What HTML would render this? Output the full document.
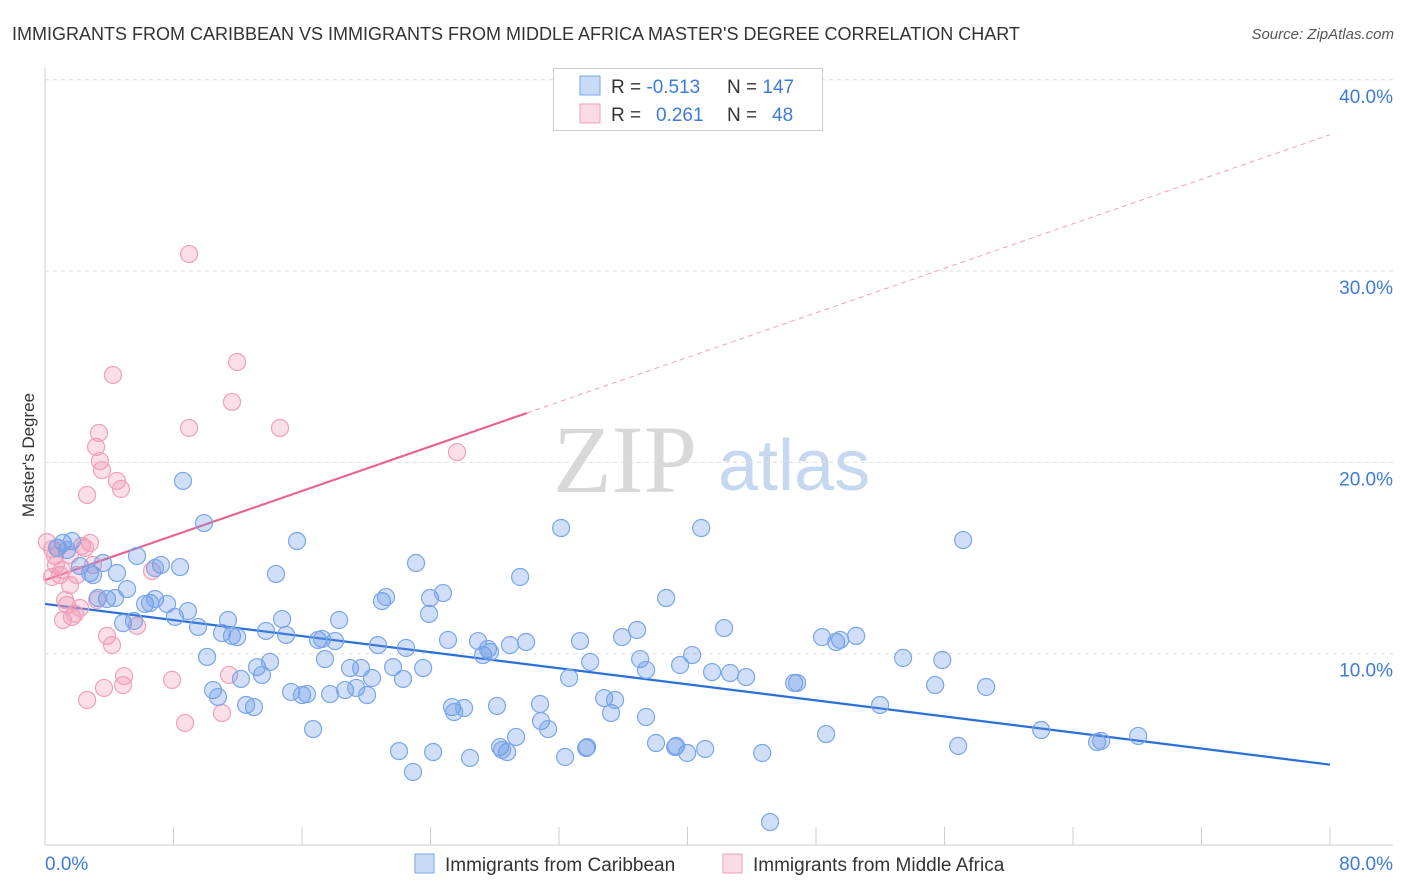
<!DOCTYPE html>
<html><head><meta charset="utf-8"><style>
body{margin:0;background:#fff;font-family:"Liberation Sans",sans-serif;}
svg{display:block}
</style></head><body>
<svg id="chart" width="1406" height="892">
<text x="12" y="40" font-size="18" fill="#333">IMMIGRANTS FROM CARIBBEAN VS IMMIGRANTS FROM MIDDLE AFRICA MASTER'S DEGREE CORRELATION CHART</text>
<text x="1394" y="39" font-size="15" fill="#555" font-style="italic" text-anchor="end">Source: ZipAtlas.com</text>
<g>
<text x="553" y="492" font-size="96" font-family="Liberation Serif,serif" fill="#d8d8d8">ZIP</text>
<text x="718" y="490" font-size="72" fill="#c5d8f0">atlas</text>
</g>
<g id="grid"></g><g id="axes"></g><g id="trends"></g><g id="pts"></g>
<text transform="translate(34,455) rotate(-90)" font-size="17" fill="#333" text-anchor="middle">Master's Degree</text>
<g>
<rect x="553.5" y="68.5" width="269" height="62" fill="#fff" stroke="#ccc"/>
<rect x="580" y="76" width="20" height="19" fill="rgba(100,150,230,0.35)" stroke="#7aa6e8"/>
<rect x="580" y="104" width="20" height="19" fill="rgba(240,150,180,0.35)" stroke="#f0a0bb"/>
<text x="611" y="93" font-size="19" fill="#333">R = <tspan fill="#3d7bd9">-0.513</tspan><tspan x="727">N = </tspan><tspan fill="#3d7bd9">147</tspan></text>
<text x="611" y="121" font-size="19" fill="#333">R = <tspan x="656" fill="#3d7bd9">0.261</tspan><tspan x="727">N = </tspan><tspan x="772" fill="#3d7bd9">48</tspan></text>
</g>
<g>
<rect x="415" y="854" width="19" height="19" fill="rgba(100,150,230,0.35)" stroke="#7aa6e8"/>
<text x="445" y="871" font-size="19" fill="#333">Immigrants from Caribbean</text>
<rect x="723" y="854" width="19" height="19" fill="rgba(240,150,180,0.35)" stroke="#f0a0bb"/>
<text x="753" y="871" font-size="19" fill="#333">Immigrants from Middle Africa</text>
</g>
</svg>
<script>
const yTicks=[10,20,30,40];
const xTickCount=10;
const blueX=[0.75,1.12,1.68,1.37,2.18,2.80,2.99,3.61,4.48,5.73,5.11,3.86,3.30,4.36,4.86,5.54,6.23,6.54,6.85,7.22,7.60,8.09,8.59,8.90,9.53,9.90,10.09,10.46,10.77,11.02,11.39,11.64,11.96,12.20,12.52,13.01,13.20,13.51,14.01,13.76,14.38,14.76,15.01,15.32,15.69,16.00,16.31,16.69,17.00,17.25,17.43,17.75,18.06,18.31,18.68,18.99,19.37,19.68,20.05,20.36,20.73,20.98,21.23,21.67,22.29,22.48,23.10,23.54,23.91,23.97,24.78,25.09,25.34,25.47,26.09,26.96,27.27,27.58,27.71,28.14,28.33,28.77,29.33,28.95,29.58,29.95,30.88,30.82,31.32,32.13,32.38,32.63,33.31,33.69,33.94,34.81,35.24,35.49,35.93,36.86,37.05,37.42,37.42,38.04,38.67,39.29,39.54,39.98,40.29,40.85,41.10,41.53,42.28,42.65,43.65,44.65,45.14,46.64,46.82,48.63,48.38,49.25,49.50,50.50,51.99,53.42,55.42,55.86,56.85,57.16,58.59,62.02,65.50,65.75,68.06,22.04,22.91,24.16,26.46,28.46,33.75,39.23,8.41,6.85];
const blueY=[15.53,15.79,15.89,15.42,14.58,14.22,14.11,14.74,14.22,15.11,13.38,12.86,12.91,12.91,11.60,11.71,12.60,12.65,12.86,14.64,12.60,11.92,19.03,12.23,11.40,16.83,9.83,8.10,7.74,11.08,11.76,10.93,10.87,8.68,7.32,7.21,9.30,8.89,9.57,11.19,14.17,11.81,10.98,8.00,15.89,7.84,7.89,6.06,10.72,10.77,9.72,7.89,10.66,11.76,8.10,9.25,8.21,9.25,7.84,8.73,10.45,12.75,12.96,9.30,8.68,10.30,14.74,9.25,12.08,12.91,13.17,10.72,7.21,6.95,7.16,10.66,9.93,10.25,10.09,7.27,5.12,4.86,5.65,10.45,14.01,10.61,6.48,7.37,6.06,16.57,4.60,8.73,10.66,5.07,9.57,7.68,6.90,7.58,10.87,11.24,9.72,9.15,6.69,5.33,12.91,5.18,9.41,4.81,9.93,16.57,5.02,9.04,11.34,8.99,8.78,4.81,1.20,8.47,8.47,5.80,10.87,10.61,10.72,10.93,7.32,9.78,8.36,9.67,5.18,15.94,8.26,6.01,5.38,5.44,5.70,4.91,3.82,4.86,4.55,4.97,5.12,5.12,14.53,14.48];
const pinkX=[0.12,0.44,0.62,0.93,0.68,1.06,1.37,1.56,1.68,1.87,1.99,2.18,2.62,2.49,2.62,2.80,2.99,3.24,3.36,3.18,3.42,3.55,3.67,3.86,4.17,4.23,4.48,4.73,4.86,4.92,5.73,6.66,7.91,8.72,8.97,8.97,11.02,11.46,11.64,11.96,14.63,25.65,1.25,1.56,2.30,0.44,0.81,1.12];
const pinkY=[15.84,15.47,15.11,14.11,14.64,14.38,12.55,13.59,11.92,12.08,14.11,12.39,18.30,15.53,7.58,15.79,14.64,12.81,21.54,20.81,20.07,19.60,8.21,10.93,10.45,24.57,19.03,18.61,8.36,8.83,11.45,14.32,8.63,6.38,30.89,21.80,6.90,8.89,23.16,25.25,21.80,20.54,12.81,15.16,15.63,14.01,15.53,11.76];
const blueTrend=[12.6,4.2];   // y at x=0 and x=80
const pinkTrend=[13.85,0.291]; // intercept, slope
const pinkSolidEnd=30;
const NS='http://www.w3.org/2000/svg';
const X0=45,X1=1330,Y0=845,PXPER10=191.3;
function sx(v){return X0+(X1-X0)*v/80;}
function sy(v){return Y0-v*PXPER10/10;}
function mk(tag,attrs,parent){const e=document.createElementNS(NS,tag);for(const k in attrs)e.setAttribute(k,attrs[k]);document.getElementById(parent).appendChild(e);return e;}
yTicks.forEach(t=>{
 const l=mk('line',{x1:X0,x2:1393,y1:sy(t),y2:sy(t),stroke:'#ddd','stroke-dasharray':'4,4'},'grid');
 
 
 const tx=mk('text',{x:1393,y:sy(t)+23,'font-size':19,fill:'#3d7bd9','text-anchor':'end'},'grid');
 tx.textContent=t.toFixed(1)+'%';
 
 
});
const ya=mk('line',{x1:X0,x2:X0,y1:68,y2:Y0,stroke:'#ccc'},'axes');


const xa=mk('line',{x1:X0,x2:1393,y1:Y0,y2:Y0,stroke:'#ccc'},'axes');


for(let i=0;i<=xTickCount;i++){
 const v=80*i/xTickCount;
 const t=mk('line',{x1:sx(v),x2:sx(v),y1:Y0-18,y2:Y0,stroke:'#ccc'},'axes');
 
 
}
const xl0=mk('text',{x:45,y:870,'font-size':19,fill:'#3d7bd9'},'axes');xl0.textContent='0.0%';


const xl1=mk('text',{x:1393,y:870,'font-size':19,fill:'#3d7bd9','text-anchor':'end'},'axes');xl1.textContent='80.0%';


function drawPts(xs,ys,fill,stroke,name){
 xs.forEach((x,i)=>{
  const c=mk('circle',{cx:sx(x),cy:sy(ys[i]),r:8.5,fill:fill,stroke:stroke,'stroke-width':1.2},'pts');
  
  
 });
}
drawPts(pinkX,pinkY,'rgba(240,150,180,0.3)','#f0a0bb','point-middle-africa');
drawPts(blueX,blueY,'rgba(100,150,230,0.3)','#7aa6e8','point-caribbean');
const bt=mk('line',{x1:sx(0),y1:sy(blueTrend[0]),x2:sx(80),y2:sy(blueTrend[1]),stroke:'#2a6fd6','stroke-width':2.2},'trends');


const pf=x=>pinkTrend[0]+pinkTrend[1]*x;
const pt=mk('line',{x1:sx(0),y1:sy(pf(0)),x2:sx(pinkSolidEnd),y2:sy(pf(pinkSolidEnd)),stroke:'#e8638f','stroke-width':2.2},'trends');


const pd=mk('line',{x1:sx(pinkSolidEnd),y1:sy(pf(pinkSolidEnd)),x2:sx(80),y2:sy(pf(80)),stroke:'#f0a0bb','stroke-width':1,'stroke-dasharray':'5,4'},'trends');


</script>
</body></html>
